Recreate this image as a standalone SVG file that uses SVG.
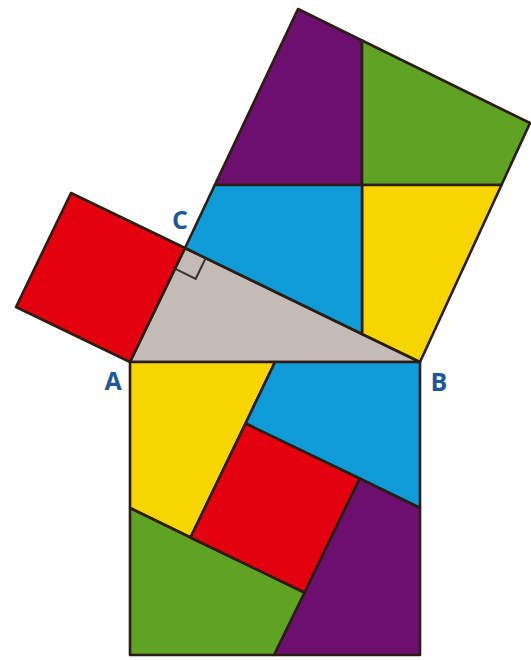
<svg xmlns="http://www.w3.org/2000/svg" width="531" height="660" viewBox="0 0 531 660">
<style>
.p{stroke:#2b1d14;stroke-width:2.6;stroke-linejoin:round}
.purple{fill:#6c0f6f}
.green{fill:#5fa224}
.yellow{fill:#f7d500}
.blue{fill:#0f9ad8}
.red{fill:#e3000f}
.gray{fill:#c4bab6}
.lbl{font-family:"Open Sans","Liberation Sans",sans-serif;font-weight:bold;font-size:25px;fill:#1f5797;text-anchor:middle}
</style>
<rect width="531" height="660" fill="#ffffff"/>
<g id="triangle"><polygon class="p gray" points="130,362 420,362 185,248"/></g>
<g id="small-square"><polygon class="p red" points="130,362 185,248 71,193 16,307"/></g>
<g id="upper-square">
<polygon class="p purple" points="298,9 362,40.5 362,185 214.8,185"/>
<polygon class="p green" points="362,40.5 530,123 501.5,185 362,185"/>
<polygon class="p yellow" points="362,185 501.5,185 420,362 362,334"/>
<polygon class="p blue" points="214.8,185 362,185 362,334 185,248"/>
</g>
<g id="lower-square">
<polygon class="p yellow" points="130,362 275,362 245.5,423.5 190.5,537.5 130,508"/>
<polygon class="p blue" points="275,362 420,362 420,508 359.5,478.5 245.5,423.5"/>
<polygon class="p purple" points="420,508 420,655 274,655 304.5,592.5 359.5,478.5"/>
<polygon class="p green" points="274,655 130,655 130,508 190.5,537.5 304.5,592.5"/>
<polygon class="p red" points="245.5,423.5 359.5,478.5 304.5,592.5 190.5,537.5"/>
</g>
<g id="connectors">
<polyline points="175,268.7 195.7,278.8 205.7,258.1" fill="none" stroke="#3a3230" stroke-width="2"/>
</g>
<g id="label-A"><text class="lbl" x="113" y="390">A</text></g>
<g id="label-B"><text class="lbl" x="439" y="391">B</text></g>
<g id="label-C"><text class="lbl" x="180" y="229">C</text></g>
</svg>
